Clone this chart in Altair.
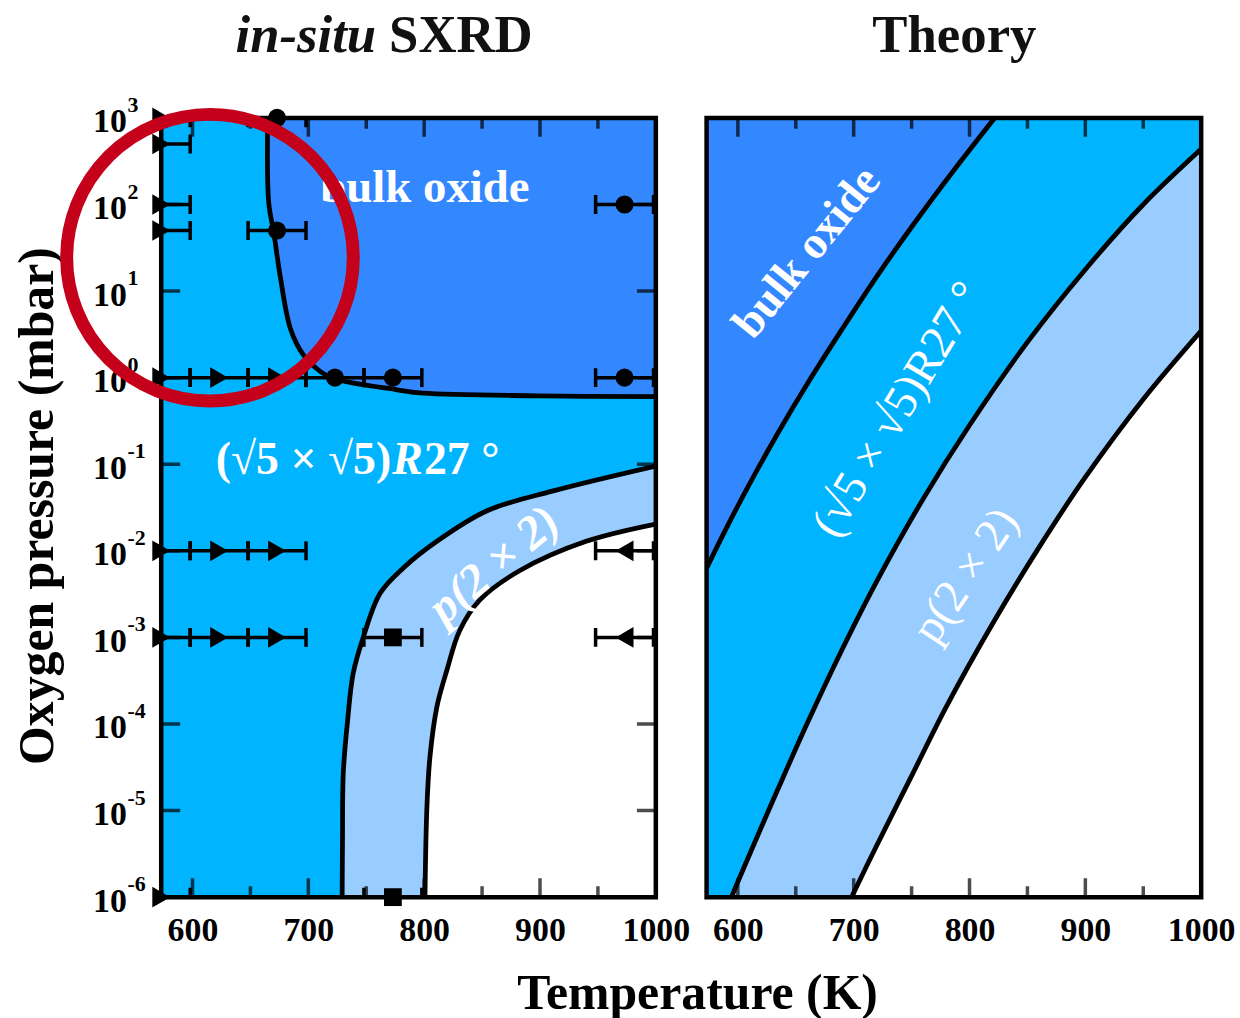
import altair as alt
import pandas as pd

FONT = "Liberation Serif"
W, H = 497, 783
C_BULK = "#3388FF"
C_ROOT5 = "#00B4FF"
C_P22 = "#99CCFF"
RED = "#C4001A"

# ---------------- data ----------------
# in-situ SXRD phase boundaries: temperature (K), log10 O2 pressure (mbar)
sxrd_bulk_T = [664.9, 665.8, 670.1, 676.1, 684.7, 695.9, 710.5, 721.6, 776.6, 799.0, 899.5, 1000.0]
sxrd_bulk_logp = [3.0, 2.02, 1.68, 1.14, 0.56, 0.26, 0.07, -0.01, -0.14, -0.18, -0.21, -0.22]
sxrd_p22_upper_T = [729.2, 729.5, 730.2, 733.7, 738.8, 747.4, 762.0, 781.8, 811.0, 853.9, 910.6, 1000.0]
sxrd_p22_upper_logp = [-6.0, -5.33, -4.56, -3.99, -3.41, -3.0, -2.49, -2.2, -1.89, -1.54, -1.31, -1.02]
sxrd_p22_lower_T = [800.7, 802.4, 805.0, 811.0, 819.6, 830.7, 847.9, 882.3, 939.8, 1000.0]
sxrd_p22_lower_logp = [-6.0, -4.95, -4.38, -3.80, -3.38, -2.92, -2.57, -2.23, -1.89, -1.69]

# theory phase boundaries
theory_bulk_T = [573.0, 590.0, 610.0, 635.0, 660.0, 690.0, 720.0, 750.0, 785.0, 821.7]
theory_bulk_logp = [-2.20, -1.74, -1.23, -0.63, -0.07, 0.56, 1.17, 1.74, 2.37, 3.0]
theory_p22_upper_T = [594.4, 610.0, 635.0, 660.0, 690.0, 720.0, 760.0, 800.0, 850.0, 900.0, 950.0, 1000.0]
theory_p22_upper_logp = [-6.0, -5.51, -4.74, -3.99, -3.14, -2.35, -1.40, -0.55, 0.41, 1.25, 2.00, 2.64]
theory_p22_lower_T = [698.2, 720.0, 750.0, 780.0, 820.0, 860.0, 900.0, 950.0, 1000.0]
theory_p22_lower_logp = [-6.0, -5.40, -4.60, -3.80, -2.84, -1.96, -1.15, -0.25, 0.54]

# measurements
meas_T = [573, 673, 573, 573, 973, 573, 673,
          573, 623, 673, 723, 773, 973,
          573, 623, 673, 973,
          573, 623, 673, 773, 973,
          573, 773]
meas_p = [1000, 1000, 500, 100, 100, 50, 50,
          1, 1, 1, 1, 1, 1,
          0.01, 0.01, 0.01, 0.01,
          0.001, 0.001, 0.001, 0.001, 0.001,
          1e-6, 1e-6]
meas_shape = ["triangle-right", "circle", "triangle-right", "triangle-right", "circle", "triangle-right", "circle",
              "triangle-right", "triangle-right", "triangle-right", "circle", "circle", "circle",
              "triangle-right", "triangle-right", "triangle-right", "triangle-left",
              "triangle-right", "triangle-right", "triangle-right", "square", "triangle-left",
              "triangle-right", "square"]
meas_err = 25

x_major = [600, 700, 800, 900]
x_minor = [650, 750, 850, 950]
y_exponents = [3, 2, 1, 0, -1, -2, -3, -4, -5, -6]
y_inner_ticks = [2, 1, 0, -1, -2, -3, -4, -5]

# highlight ring (temperature, pressure of its centre)
ring_T = [615.1]
ring_p = [24.3]

# ---------------- helpers ----------------
xscale = alt.Scale(domain=[573, 1000], nice=False, zero=False)
yscale = alt.Scale(type="log", domain=[1e-6, 1e3], nice=False)

xaxis = alt.Axis(values=[600, 700, 800, 900, 1000], format="d", labelFont=FONT, labelFontSize=34,
                 labelFontWeight="bold", labelColor="black", labelPadding=17, tickSize=0,
                 domain=False, grid=False, title=None, labelFlush=False, labelOverlap=False)
yaxis_left = alt.Axis(values=[10.0 ** e for e in y_exponents], labelExpr="'10'", labelFont=FONT,
                      labelFontSize=34, labelFontWeight="bold", labelColor="black", labelPadding=35,
                      labelOffset=4, tickSize=0, domain=False, grid=False, title=None,
                      labelFlush=False, labelOverlap=False)

INTERP = "catmull-rom"
LINE_W = 4.8


def curve_df(T, logp):
    return pd.DataFrame({"T": T, "p": [10.0 ** v for v in logp]})


def build_panel(yaxis, bulk, upper, lower, extra):
    def X(f):
        return alt.X(f"{f}:Q", scale=xscale, axis=xaxis)

    def Y(f):
        return alt.Y(f"{f}:Q", scale=yscale, axis=yaxis)

    layers = []
    layers.append(alt.Chart(bulk).mark_area(color=C_BULK, interpolate=INTERP, clip=True)
                  .encode(x=X("T"), y=Y("p"), y2=alt.datum(1000)))
    layers.append(alt.Chart(upper).mark_area(color=C_P22, interpolate=INTERP, clip=True)
                  .encode(x=X("T"), y=Y("p"), y2=alt.datum(1e-6)))
    layers.append(alt.Chart(lower).mark_area(color="white", interpolate=INTERP, clip=True)
                  .encode(x=X("T"), y=Y("p"), y2=alt.datum(1e-6)))
    for d in (bulk, upper, lower):
        layers.append(alt.Chart(d).mark_line(color="black", strokeWidth=LINE_W, interpolate=INTERP, clip=True)
                      .encode(x=X("T"), y=Y("p")))
    frame = pd.DataFrame({"a": [0]})
    layers.append(alt.Chart(frame).mark_rect(filled=False, stroke="black", strokeWidth=4.5)
                  .encode(x=alt.value(0), x2=alt.value(W), y=alt.value(0), y2=alt.value(H)))
    xt = pd.DataFrame({"T": x_major + x_minor, "len": [38] * len(x_major) + [22] * len(x_minor)})
    for yy in (0, H):
        layers.append(alt.Chart(xt).mark_tick(color="black", thickness=3.5, clip=True, orient="vertical")
                      .encode(x=X("T"), y=alt.value(yy), size=alt.Size("len:Q", scale=None, legend=None)))
    layers.extend(extra(X, Y))
    return alt.layer(*layers).properties(width=W, height=H)


def left_extra(X, Y):
    out = []
    yt = pd.DataFrame({"p": [10.0 ** e for e in y_inner_ticks]})
    for xx in (0, W):
        out.append(alt.Chart(yt).mark_tick(color="black", thickness=3.5, size=38, clip=True, orient="horizontal")
                   .encode(y=Y("p"), x=alt.value(xx)))
    size_of = {"circle": 330, "square": 320, "triangle-right": 430, "triangle-left": 430}
    meas = pd.DataFrame({"T": meas_T, "p": meas_p, "shape": meas_shape})
    meas["lo"] = meas["T"] - meas_err
    meas["hi"] = meas["T"] + meas_err
    meas["sz"] = meas["shape"].map(size_of)
    base = alt.Chart(meas)
    out.append(base.mark_rule(color="black", strokeWidth=3.5, clip=True)
               .encode(x=X("lo"), x2=alt.X2("hi"), y=Y("p")))
    for f in ("lo", "hi"):
        out.append(base.mark_tick(color="black", thickness=3.5, size=19, clip=True, orient="vertical", opacity=1)
                   .encode(x=X(f), y=Y("p")))
    out.append(base.mark_point(filled=True, color="black", opacity=1)
               .encode(x=X("T"), y=Y("p"), shape=alt.Shape("shape:N", scale=None, legend=None),
                       size=alt.Size("sz:Q", scale=None, legend=None)))
    # exponents of tick labels
    ex = pd.DataFrame({"p": [10.0 ** e for e in y_exponents], "e": [str(e) for e in y_exponents]})
    out.append(alt.Chart(ex).mark_text(font=FONT, fontSize=22, fontWeight="bold", color="black",
                                       align="left", baseline="middle", dy=-13)
               .encode(x=alt.value(-34), y=Y("p"), text="e:N"))
    # region labels
    one = pd.DataFrame({"T": [800.7], "p": [156.7]})
    out.append(alt.Chart(one).mark_text(text="bulk oxide", font=FONT, fontSize=47, fontWeight="bold",
                                        color="white", align="center", baseline="middle")
               .encode(x=X("T"), y=Y("p")))
    r1 = pd.DataFrame({"T": [771.5], "p": [0.0767]})
    out.append(alt.Chart(r1).mark_text(text="(√5 × √5)", font=FONT, fontSize=46, fontWeight="bold",
                                       color="white", align="right", baseline="alphabetic")
               .encode(x=X("T"), y=Y("p")))
    out.append(alt.Chart(r1).mark_text(text="R", font=FONT, fontSize=46, fontWeight="bold", fontStyle="italic",
                                       color="white", align="left", baseline="alphabetic", dx=1)
               .encode(x=X("T"), y=Y("p")))
    out.append(alt.Chart(r1).mark_text(text="27 °", font=FONT, fontSize=46, fontWeight="bold",
                                       color="white", align="left", baseline="alphabetic", dx=33)
               .encode(x=X("T"), y=Y("p")))
    r2 = pd.DataFrame({"T": [860.8], "p": [0.00676]})
    out.append(alt.Chart(r2).mark_text(text="p(2 × 2)", font=FONT, fontSize=48, fontStyle="italic",
                                       fontWeight="bold", color="white", align="center", baseline="middle",
                                       angle=320)
               .encode(x=X("T"), y=Y("p")))
    # titles and axis titles
    t = pd.DataFrame({"a": [0]})
    out.append(alt.Chart(t).mark_text(text="in-situ", font=FONT, fontSize=53, fontWeight="bold",
                                      fontStyle="italic", color="#111111", align="right", baseline="alphabetic")
               .encode(x=alt.value(216), y=alt.value(-66)))
    out.append(alt.Chart(t).mark_text(text="SXRD", font=FONT, fontSize=53, fontWeight="bold",
                                      color="#111111", align="left", baseline="alphabetic")
               .encode(x=alt.value(229), y=alt.value(-66)))
    out.append(alt.Chart(t).mark_text(text="Oxygen pressure (mbar)", font=FONT, fontSize=50, fontWeight="bold",
                                      color="black", align="center", baseline="middle", angle=270)
               .encode(x=alt.value(-124), y=alt.value(390)))
    out.append(alt.Chart(t).mark_text(text="Temperature (K)", font=FONT, fontSize=50, fontWeight="bold",
                                      color="black", align="center", baseline="alphabetic")
               .encode(x=alt.value(539), y=alt.value(895)))
    ring = pd.DataFrame({"T": ring_T, "p": ring_p})
    out.append(alt.Chart(ring).mark_point(shape="circle", filled=False, stroke=RED, strokeWidth=13,
                                          strokeOpacity=1, opacity=1, size=82944)
               .encode(x=X("T"), y=Y("p")))
    return out


def right_extra(X, Y):
    out = []
    a = pd.DataFrame({"T": [659.6], "p": [28.0]})
    out.append(alt.Chart(a).mark_text(text="bulk oxide", font=FONT, fontSize=46, fontWeight="bold",
                                      color="white", align="center", baseline="middle", angle=309)
               .encode(x=X("T"), y=Y("p")))
    b = pd.DataFrame({"T": [738.5], "p": [0.428]})
    out.append(alt.Chart(b).mark_text(text="(√5 × √5)R27 °", font=FONT, fontSize=47,
                                      color="white", align="center", baseline="middle", angle=301)
               .encode(x=X("T"), y=Y("p")))
    c = pd.DataFrame({"T": [796.8], "p": [0.00516]})
    out.append(alt.Chart(c).mark_text(text="p(2 × 2)", font=FONT, fontSize=47,
                                      color="white", align="center", baseline="middle", angle=304)
               .encode(x=X("T"), y=Y("p")))
    t = pd.DataFrame({"a": [0]})
    out.append(alt.Chart(t).mark_text(text="Theory", font=FONT, fontSize=53, fontWeight="bold",
                                      color="#111111", align="center", baseline="alphabetic")
               .encode(x=alt.value(249), y=alt.value(-66)))
    return out


left = build_panel(yaxis_left,
                   curve_df(sxrd_bulk_T, sxrd_bulk_logp),
                   curve_df(sxrd_p22_upper_T, sxrd_p22_upper_logp),
                   curve_df(sxrd_p22_lower_T, sxrd_p22_lower_logp),
                   left_extra)
right = build_panel(None,
                    curve_df(theory_bulk_T, theory_bulk_logp),
                    curve_df(theory_p22_upper_T, theory_p22_upper_logp),
                    curve_df(theory_p22_lower_T, theory_p22_lower_logp),
                    right_extra)

chart = (alt.hconcat(left, right, spacing=51, bounds="flush")
         .properties(padding={"left": 13, "top": 8, "right": 5, "bottom": 5})
         .configure_view(fill=C_ROOT5, strokeWidth=0))

chart.save("out.html", embed_options={"renderer": "svg", "actions": False})
